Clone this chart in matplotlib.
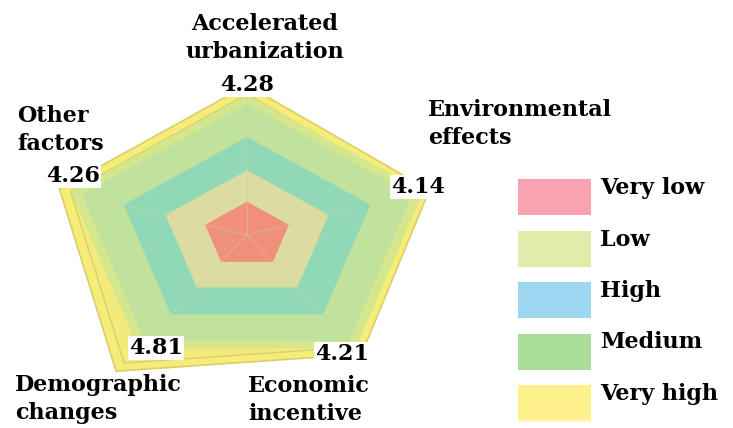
import numpy as np
import matplotlib.pyplot as plt
from matplotlib.patches import Polygon, Rectangle

factors = ['Accelerated\nurbanization', 'Environmental\neffects', 'Economic\nincentive',
           'Demographic\nchanges', 'Other\nfactors']
scores = [4.28, 4.14, 4.21, 4.81, 4.26]

band_levels = [3.75, 2.8, 1.85, 0.95]
band_colors = ['#c0e29c', '#91d9b6', '#dcdca2', '#f08f7c']

legend_names = ['Very low', 'Low', 'High', 'Medium', 'Very high']
legend_colors = ['#f9a3b1', '#e2eba9', '#9cd9f1', '#aadd9a', '#fff28c']

plt.rcParams['font.family'] = ['DejaVu Serif']
plt.rcParams['font.weight'] = 'bold'

W, H = 733, 428
fig = plt.figure(figsize=(W / 100, H / 100), dpi=100)

# radar part in a plain axes, the original is stretched sideways
cx, cy, kx, ky = 247, 235, 46.3, 35.0
ax = fig.add_axes([0, 0, 1, 1])
ax.set_xlim(-cx / kx, (W - cx) / kx)
ax.set_ylim(-(H - cy) / ky, cy / ky)
ax.axis('off')

ang = np.arange(5) * 2 * np.pi / 5
ux, uy = np.sin(ang), np.cos(ang)


def pent(r):
    r = np.asarray(r) * np.ones(5)
    return np.column_stack([r * ux, r * uy])


vals = np.array(scores)
ax.add_patch(Polygon(pent(vals), closed=True, fc='#f6ec78', ec='#d9cf6a', lw=1.2))
ax.add_patch(Polygon(pent(vals * 0.94), closed=True, fc='#f4ea7c', ec='#d8d070', lw=1.0))
ax.add_patch(Polygon(pent(4.0), closed=True, fc='#d4e68e', ec='none'))
for lvl, c in zip(band_levels, band_colors):
    ax.add_patch(Polygon(pent(lvl), closed=True, fc=c, ec='none'))
for i in range(5):
    ax.plot([0, 4.0 * ux[i]], [0, 4.0 * uy[i]], color='#c8d2a0', lw=0.6, alpha=0.6)

# text overlay in pixel units
tax = fig.add_axes([0, 0, 1, 1])
tax.set_xlim(0, W)
tax.set_ylim(H, 0)
tax.axis('off')

val_xy = [(247, 85), (418, 187), (342, 354), (156, 348), (73, 176)]
for (x, y), v in zip(val_xy, scores):
    tax.text(x, y, '%.2f' % v, ha='center', va='center', fontsize=16, fontweight='bold',
             bbox=dict(fc='white', ec='none', pad=1.0))

lab_xy = [(265, 38, 'center'), (428, 124, 'left'), (248, 400, 'left'),
          (15, 399, 'left'), (17, 130, 'left')]
for (x, y, ha), t in zip(lab_xy, factors):
    tax.text(x, y, t, ha=ha, va='center', fontsize=16, fontweight='bold', linespacing=1.4)

# legend
for i, (name, c) in enumerate(zip(legend_names, legend_colors)):
    top = 179 + i * 51.5
    tax.add_patch(Rectangle((518, top), 73, 36, fc=c, ec='none'))
    tax.text(600, top + 9, name, ha='left', va='center', fontsize=16, fontweight='bold')

fig.savefig('out.png', dpi=100)
